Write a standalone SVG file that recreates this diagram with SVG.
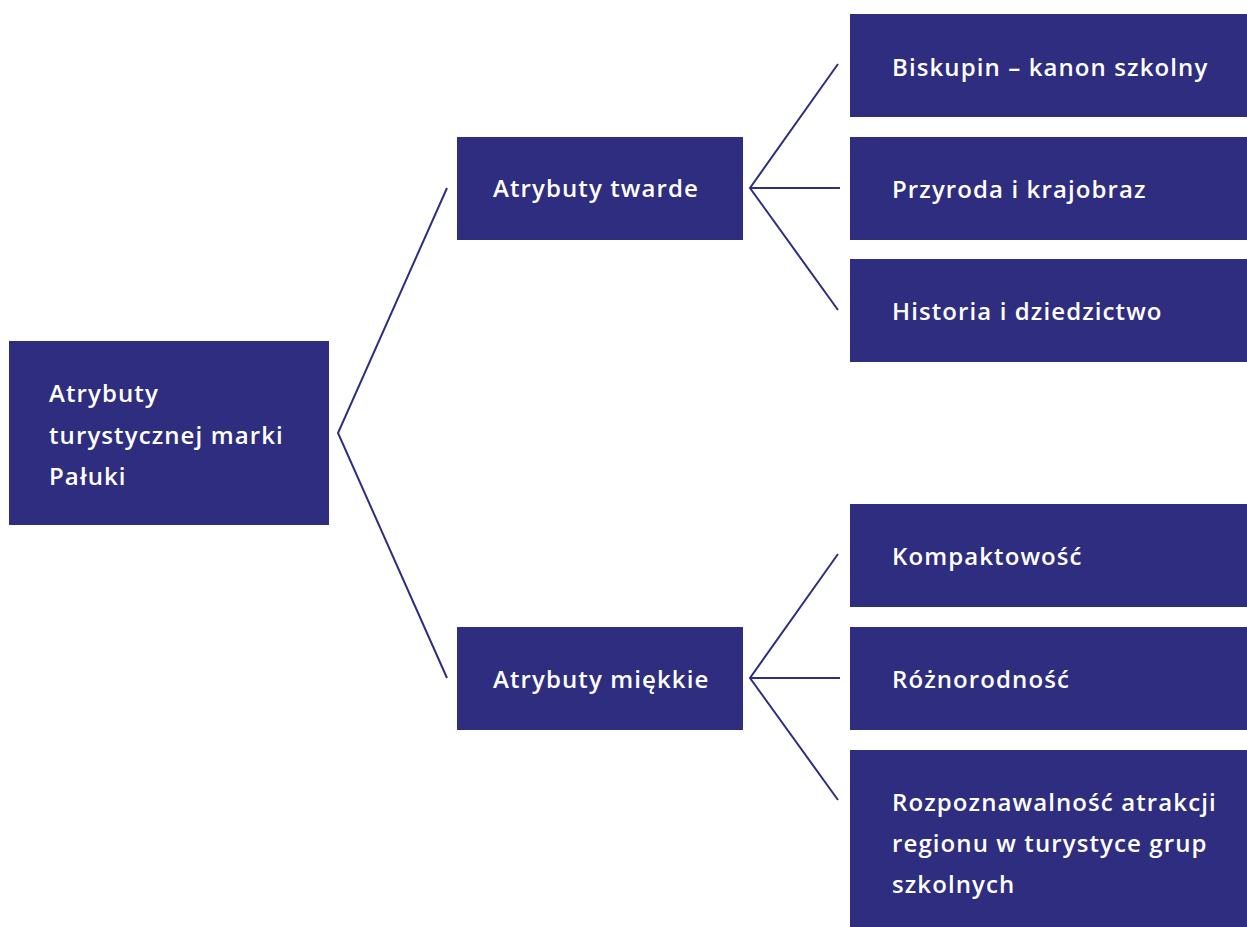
<svg xmlns="http://www.w3.org/2000/svg" width="1247" height="927" viewBox="0 0 1247 927">
<style>
.box{fill:#2e2d80}
.t{fill:#ffffff;font-family:"Open Sans","Liberation Sans",sans-serif;font-size:24px;font-weight:600;letter-spacing:1.1px}
.c{stroke:#2e2d80;stroke-width:2;fill:none;stroke-linejoin:miter}
</style>
<rect width="1247" height="927" fill="#ffffff"/>
<g id="connectors">
<polyline class="c" points="447,188 338,433 447,678"/>
<polyline class="c" points="838,64 750,188 838,310"/>
<line class="c" x1="750" y1="188" x2="840" y2="188"/>
<polyline class="c" points="838,554 750,678 838,800"/>
<line class="c" x1="750" y1="678" x2="840" y2="678"/>
</g>
<g id="root">
<rect class="box" x="9" y="341" width="320" height="184"/>
<text class="t" x="49" y="402">Atrybuty</text>
<text class="t" x="49" y="444">turystycznej marki</text>
<text class="t" x="49" y="485">Pałuki</text>
</g>
<g id="twarde">
<rect class="box" x="457" y="137" width="286" height="103"/>
<text class="t" x="493" y="197">Atrybuty twarde</text>
</g>
<g id="miekkie">
<rect class="box" x="457" y="627" width="286" height="103"/>
<text class="t" x="493" y="688">Atrybuty miękkie</text>
</g>
<g id="biskupin">
<rect class="box" x="850" y="14" width="397" height="103"/>
<text class="t" x="892" y="76">Biskupin – kanon szkolny</text>
</g>
<g id="przyroda">
<rect class="box" x="850" y="137" width="397" height="103"/>
<text class="t" x="892" y="198">Przyroda i krajobraz</text>
</g>
<g id="historia">
<rect class="box" x="850" y="259" width="397" height="103"/>
<text class="t" x="892" y="320">Historia i dziedzictwo</text>
</g>
<g id="kompaktowosc">
<rect class="box" x="850" y="504" width="397" height="103"/>
<text class="t" x="892" y="565">Kompaktowość</text>
</g>
<g id="roznorodnosc">
<rect class="box" x="850" y="627" width="397" height="103"/>
<text class="t" x="892" y="688">Różnorodność</text>
</g>
<g id="rozpoznawalnosc">
<rect class="box" x="850" y="750" width="397" height="177"/>
<text class="t" x="892" y="811">Rozpoznawalność atrakcji</text>
<text class="t" x="892" y="852">regionu w turystyce grup</text>
<text class="t" x="892" y="893">szkolnych</text>
</g>
</svg>
